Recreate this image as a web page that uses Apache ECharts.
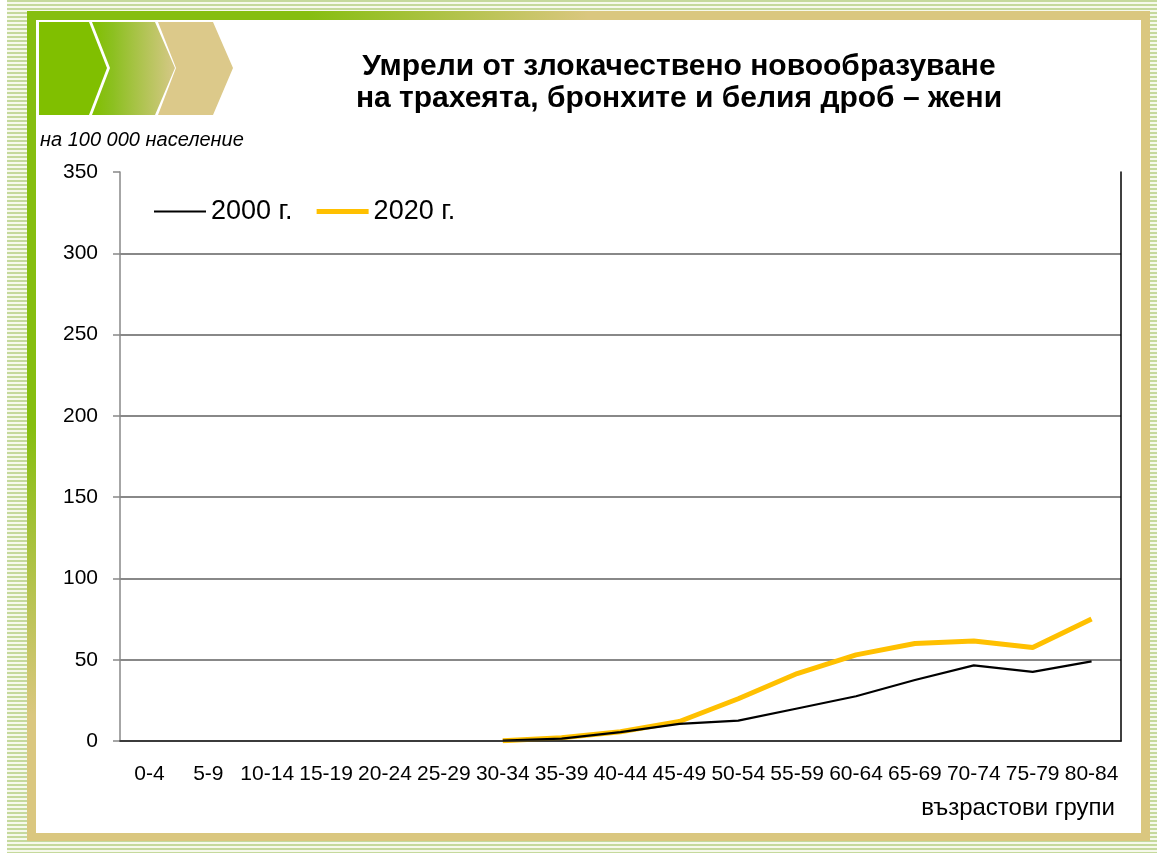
<!DOCTYPE html>
<html>
<head>
<meta charset="utf-8">
<script src="https://cdn.jsdelivr.net/npm/echarts@6/dist/echarts.min.js"></script>
<style>
  html, body { margin: 0; padding: 0; background: #fff; }
  #stripes {
    position: absolute; left: 7px; top: 0; width: 1150px; height: 853px;
    background: repeating-linear-gradient(to bottom, #c5d99c 0px, #c5d99c 2px, #f6f9ec 2px, #f6f9ec 4px);
  }
  #chart { position: absolute; left: 0; top: 0; width: 1157px; height: 853px; }
</style>
</head>
<body>
<div id="stripes"></div>
<div id="chart"></div>
<script>
const ageGroups = ['0-4', '5-9', '10-14', '15-19', '20-24', '25-29', '30-34', '35-39', '40-44',
  '45-49', '50-54', '55-59', '60-64', '65-69', '70-74', '75-79', '80-84']
const values2000 = [null, null, null, null, null, null, 0.3, 1.5, 5.5, 10.5, 12.5, 20, 27.5, 37.5, 46.5, 42.5, 49]
const values2020 = [null, null, null, null, null, null, 0.2, 2, 5.7, 12, 26, 41.5, 53, 60, 61.5, 57.5, 75]
const seriesNames = ['2000 г.', '2020 г.']

const arial = "'Liberation Sans', Arial, sans-serif"
const green = '#86be10'
const tan = '#dac77f'

const myChart = echarts.init(document.getElementById('chart'))

const option = {
  backgroundColor: 'transparent',
  animation: false,
  title: {
    text: 'Умрели от злокачествено новообразуване\nна трахеята, бронхите и белия дроб – жени',
    left: 674,
    top: 46,
    textAlign: 'center',
    textStyle: {
      fontFamily: arial,
      fontSize: 30,
      fontWeight: 'bold',
      lineHeight: 32,
      color: '#000'
    }
  },
  legend: {
    left: 154,
    top: 198,
    padding: 0,
    itemWidth: 52,
    itemHeight: 14,
    itemGap: 24,
    textStyle: { fontFamily: arial, fontSize: 27, color: '#000' },
    data: [
      { name: seriesNames[0], icon: 'path://M0,0H52V2H0Z', itemStyle: { color: '#000' } },
      { name: seriesNames[1], icon: 'path://M0,0H52V5H0Z', itemStyle: { color: '#ffc000' } }
    ]
  },
  grid: { left: 120, top: 172, right: 36, bottom: 112 },
  graphic: [
    // frame
    { type: 'rect', z: -10, shape: { x: 27, y: 11, width: 1123, height: 830 }, style: { fill: tan } },
    {
      type: 'rect', z: -9, shape: { x: 27, y: 11, width: 1123, height: 9 },
      style: { fill: new echarts.graphic.LinearGradient(0, 0, 1, 0, [
        { offset: 0, color: green }, { offset: 0.25, color: green }, { offset: 0.5, color: tan }, { offset: 1, color: tan }]) }
    },
    {
      type: 'rect', z: -9, shape: { x: 27, y: 11, width: 9, height: 830 },
      style: { fill: new echarts.graphic.LinearGradient(0, 0, 0, 1, [
        { offset: 0, color: green }, { offset: 0.5, color: green }, { offset: 0.85, color: tan }, { offset: 1, color: tan }]) }
    },
    { type: 'rect', z: -8, shape: { x: 36, y: 20, width: 1105, height: 813 }, style: { fill: '#fff' } },
    // chevrons
    {
      type: 'polygon', z: -7,
      shape: { points: [[39, 22], [89, 22], [107, 68], [89, 115], [39, 115]] },
      style: { fill: '#80bf00' }
    },
    {
      type: 'polygon', z: -7,
      shape: { points: [[92, 22], [155, 22], [175, 68], [155, 115], [92, 115], [110, 68]] },
      style: { fill: new echarts.graphic.LinearGradient(0, 0, 1, 0, [
        { offset: 0, color: '#80bf00' }, { offset: 0.25, color: '#8cc020' }, { offset: 1, color: '#d6c887' }]) }
    },
    {
      type: 'polygon', z: -7,
      shape: { points: [[158, 22], [213, 22], [233, 68], [213, 115], [158, 115], [176, 68]] },
      style: { fill: '#dcc98a' }
    },
    {
      type: 'text', left: 40, top: 130,
      style: { text: 'на 100 000 население', font: 'italic 20px ' + arial, fill: '#000' }
    },
    {
      type: 'text', right: 42, top: 796,
      style: { text: 'възрастови групи', font: '24px ' + arial, fill: '#000' }
    }
  ],
  xAxis: [
    {
      type: 'category',
      data: ageGroups,
      boundaryGap: true,
      axisLine: { lineStyle: { color: '#888', width: 1.5 } },
      axisTick: { length: 7, lineStyle: { color: '#888', width: 1.5 } },
      axisLabel: { margin: 23, interval: 0, fontFamily: arial, fontSize: 21, color: '#000' }
    },
    {
      type: 'category',
      position: 'top',
      data: ageGroups,
      z: 5,
      axisLine: { lineStyle: { color: '#222', width: 1.5 } },
      axisTick: { show: false },
      axisLabel: { show: false }
    }
  ],
  yAxis: [
    {
      type: 'value',
      min: 0,
      max: 350,
      interval: 50,
      axisLine: { show: true, lineStyle: { color: '#888', width: 1.5 } },
      axisTick: { show: true, length: 7, lineStyle: { color: '#888', width: 1.5 } },
      axisLabel: { margin: 22, fontFamily: arial, fontSize: 21, color: '#000' },
      splitLine: { showMaxLine: false, lineStyle: { color: '#888', width: 1.8 } }
    },
    {
      type: 'value',
      position: 'right',
      z: 5,
      axisLine: { show: true, lineStyle: { color: '#000', width: 1.5 } },
      axisTick: { show: false },
      axisLabel: { show: false },
      splitLine: { show: false }
    }
  ],
  series: [
    {
      name: seriesNames[0],
      type: 'line',
      data: values2000,
      symbol: 'none',
      z: 3,
      lineStyle: { color: '#000', width: 2.2 },
      itemStyle: { color: '#000' }
    },
    {
      name: seriesNames[1],
      type: 'line',
      data: values2020,
      symbol: 'none',
      z: 2,
      lineStyle: { color: '#ffc000', width: 5 },
      itemStyle: { color: '#ffc000' }
    }
  ]
}
myChart.setOption(option)
</script>
</body>
</html>
